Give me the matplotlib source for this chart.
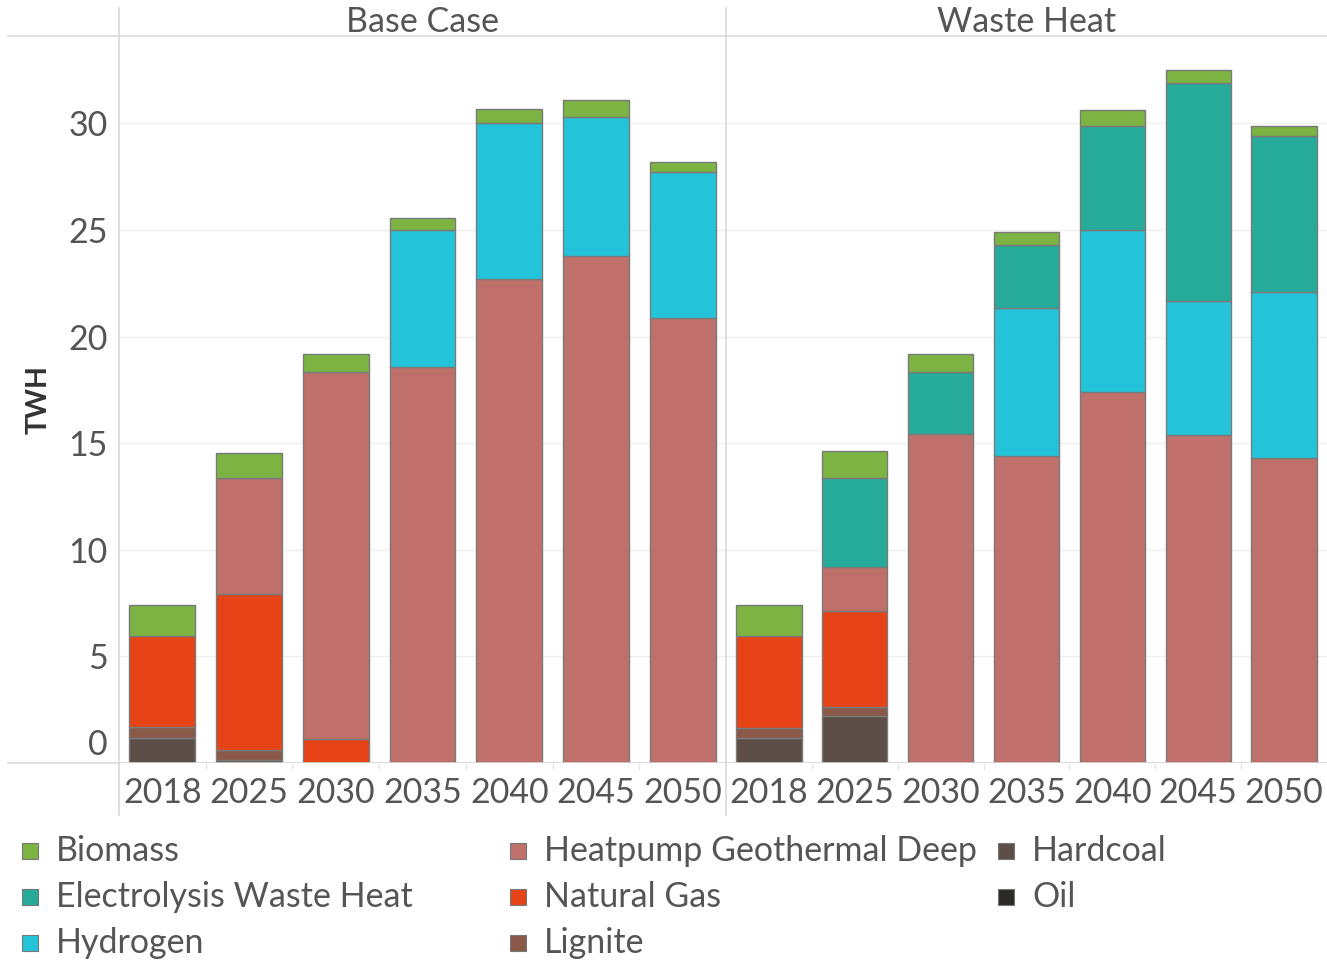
import matplotlib
matplotlib.use("Agg")
import matplotlib.pyplot as plt
import numpy as np
from matplotlib.transforms import ScaledTranslation
from matplotlib.patches import Rectangle
from matplotlib.lines import Line2D

plt.rcParams['font.family'] = ['Lato', 'DejaVu Sans']

years = ["2018", "2025", "2030", "2035", "2040", "2045", "2050"]
scenarios = ["Base Case", "Waste Heat"]
carriers = ["Oil", "Hardcoal", "Lignite", "Natural Gas", "Heatpump Geothermal Deep",
            "Hydrogen", "Electrolysis Waste Heat", "Biomass"]
colors = {
    "Biomass": "#7cb342",
    "Electrolysis Waste Heat": "#26aa99",
    "Hydrogen": "#23c4d9",
    "Heatpump Geothermal Deep": "#c0706a",
    "Natural Gas": "#e64316",
    "Lignite": "#8a5949",
    "Hardcoal": "#5d4f48",
    "Oil": "#2b2a26",
}
legend_order = ["Biomass", "Electrolysis Waste Heat", "Hydrogen",
                "Heatpump Geothermal Deep", "Natural Gas", "Lignite",
                "Hardcoal", "Oil"]

# values in TWh, per scenario, per year
base_oil = [0, 0, 0, 0, 0, 0, 0]
base_hardcoal = [1.19, 0.14, 0, 0, 0, 0, 0]
base_lignite = [0.49, 0.47, 0, 0, 0, 0, 0]
base_natural_gas = [4.28, 7.32, 1.11, 0, 0, 0, 0]
base_heatpump = [0, 5.45, 17.25, 18.59, 22.68, 23.80, 20.85]
base_hydrogen = [0, 0, 0, 6.39, 7.32, 6.48, 6.85]
base_electrolysis = [0, 0, 0, 0, 0, 0, 0]
base_biomass = [1.46, 1.17, 0.84, 0.56, 0.66, 0.80, 0.47]

wh_oil = [0, 0, 0, 0, 0, 0, 0]
wh_hardcoal = [1.19, 2.20, 0, 0, 0, 0, 0]
wh_lignite = [0.47, 0.41, 0, 0, 0, 0, 0]
wh_natural_gas = [4.30, 4.53, 0, 0, 0, 0, 0]
wh_heatpump = [0, 2.06, 15.45, 14.41, 17.42, 15.40, 14.32]
wh_hydrogen = [0, 0, 0, 6.95, 7.60, 6.29, 7.79]
wh_electrolysis = [0, 4.18, 2.91, 2.96, 4.84, 10.19, 7.28]
wh_biomass = [1.46, 1.27, 0.84, 0.61, 0.75, 0.61, 0.47]

data = {
    "Base Case": {
        "Oil": base_oil, "Hardcoal": base_hardcoal, "Lignite": base_lignite,
        "Natural Gas": base_natural_gas, "Heatpump Geothermal Deep": base_heatpump,
        "Hydrogen": base_hydrogen, "Electrolysis Waste Heat": base_electrolysis,
        "Biomass": base_biomass,
    },
    "Waste Heat": {
        "Oil": wh_oil, "Hardcoal": wh_hardcoal, "Lignite": wh_lignite,
        "Natural Gas": wh_natural_gas, "Heatpump Geothermal Deep": wh_heatpump,
        "Hydrogen": wh_hydrogen, "Electrolysis Waste Heat": wh_electrolysis,
        "Biomass": wh_biomass,
    },
}

W, H = 1327, 961
fig = plt.figure(figsize=(W / 100, H / 100), dpi=100)

def fx(px):
    return px / W

def fy(py):
    return 1 - py / H

txt_col = "#555555"
ymax = 34.1
panel_x = [(119, 726), (726, 1327)]
axes = []
for i, scen in enumerate(scenarios):
    x0, x1 = panel_x[i]
    ax = fig.add_axes([fx(x0), fy(763), fx(x1 - x0), (763 - 36) / H])
    axes.append(ax)
    x = np.arange(len(years))
    bottom = np.zeros(len(years))
    for c in carriers:
        vals = np.array(data[scen][c], dtype=float)
        mask = vals > 0
        ax.bar(x[mask], vals[mask], bottom=bottom[mask], width=0.76,
               color=colors[c], edgecolor="#7a7a7a", linewidth=1.0, zorder=3)
        bottom += vals
    ax.set_xlim(-0.5, len(years) - 0.5)
    ax.set_ylim(0, ymax)
    for s in ax.spines.values():
        s.set_visible(False)
    ax.set_yticks([0, 5, 10, 15, 20, 25, 30])
    ax.yaxis.grid(True, color="#efefef", linewidth=1, zorder=0)
    ax.set_axisbelow(True)
    ax.set_xticks(x)
    ax.set_xticklabels(years)
    ax.tick_params(axis="x", length=0, pad=10, labelsize=24.5, labelcolor=txt_col)
    ax.set_xticks(np.arange(0.5, len(years) - 0.5, 1), minor=True)
    ax.tick_params(axis="x", which="minor", length=5, color="#e6e6e6", width=1)
    if i == 0:
        ax.tick_params(axis="y", length=0, pad=8, labelsize=24.5, labelcolor=txt_col)
        labs = ax.get_yticklabels()
        labs[0].set_transform(labs[0].get_transform() +
                              ScaledTranslation(0, 0.21, fig.dpi_scale_trans))
        ax.set_ylabel("TWH", fontsize=20.5, fontweight="bold", color="#333333",
                      labelpad=12)
    else:
        ax.tick_params(axis="y", length=0, labelleft=False)
    ax.axhline(0, color="#d5d5d5", linewidth=1.2, zorder=4)
    ax.text(0.5, 1 + 14 / 727, scen, transform=ax.transAxes, ha="center",
            va="center", fontsize=24.5, color=txt_col)

# frame lines
fig.add_artist(Line2D([fx(8), fx(1327)], [fy(36), fy(36)], color="#d9d9d9", lw=1.2))
fig.add_artist(Line2D([fx(8), fx(119)], [fy(763), fy(763)], color="#d9d9d9", lw=1.2))
for xv in (119, 726):
    fig.add_artist(Line2D([fx(xv), fx(xv)], [fy(8), fy(815)], color="#d9d9d9", lw=1.2))

# legend (column-major, 3 rows)
col_x = [22, 510, 998]
row_y = [851, 897, 943]
for k, name in enumerate(legend_order):
    cx = col_x[k // 3]
    ry = row_y[k % 3]
    fig.add_artist(Rectangle((fx(cx), fy(ry + 8)), fx(16), 16 / H,
                             facecolor=colors[name], edgecolor="#777777",
                             linewidth=0.8, transform=fig.transFigure))
    fig.text(fx(cx + 34), fy(ry), name, ha="left", va="center",
             fontsize=24.5, color=txt_col)

fig.savefig("out.png", dpi=100, facecolor="white")
